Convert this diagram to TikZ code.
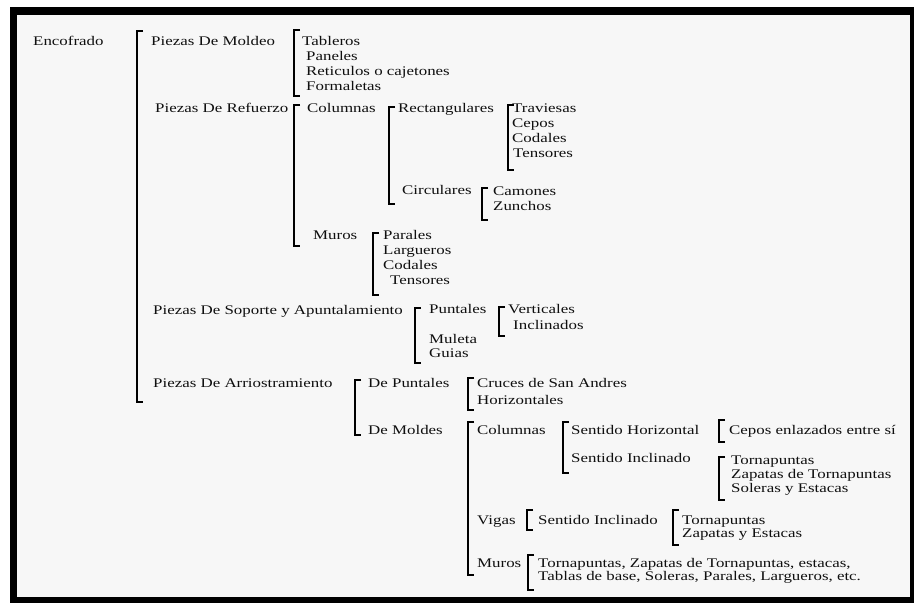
\documentclass[tikz,border=0pt]{standalone}
\usepackage{fontspec}
\setmainfont{Liberation Serif}[FakeStretch=1.28]
\usepackage{tikz}
\usetikzlibrary{calc}
\definecolor{myink}{RGB}{15,15,15}
\definecolor{mypaper}{RGB}{247,247,247}
\tikzset{
  item/.style={anchor=west, inner xsep=0pt, inner ysep=1pt,
    text height=0.7em, text depth=0.2em, text=myink,
    font=\fontsize{13.2}{15}\selectfont},
  bracketline/.style={draw=black, line width=1.5pt}
}
% bracket at x=#1 from node #2 down to node #3, #4/#5 = overshoot above/below
\newcommand{\corchete}[5]{%
  \draw[bracketline] ($(#1,0|-#2.west)+(6,-#4)$) -- ++(-6,0)
    -- ($(#1,0|-#3.west)+(0,#5)$) -- ++(6,0);}

\begin{document}
\begin{tikzpicture}[x=1pt,y=-1pt]
  \useasboundingbox (0,0) rectangle (916,603);
  % frame
  \fill[black] (10,7) rectangle (914,603);
  \fill[mypaper] (17,15) rectangle (910,597);

  \node[item] (enc) at (33,43) {Encofrado};

  % Piezas De Moldeo
  \node[item] (pmol) at (151,43) {Piezas De Moldeo};
  \node[item] (tab)  at (302,43) {Tableros};
  \node[item] (pan)  at (306,58) {Paneles};
  \node[item] (ret)  at (306,73) {Reticulos o cajetones};
  \node[item] (form) at (306,88) {Formaletas};

  % Piezas De Refuerzo
  \node[item] (pref) at (155,110) {Piezas De Refuerzo};
  \node[item] (col)  at (307,110) {Columnas};
  \node[item] (rect) at (398,110) {Rectangulares};
  \node[item] (trav) at (512,110) {Traviesas};
  \node[item] (cep)  at (512,125) {Cepos};
  \node[item] (cod)  at (512,140) {Codales};
  \node[item] (ten)  at (513,155) {Tensores};
  \node[item] (circ) at (402,192) {Circulares};
  \node[item] (cam)  at (493,193) {Camones};
  \node[item] (zun)  at (493,208) {Zunchos};
  \node[item] (mur)  at (313,237) {Muros};
  \node[item] (par)  at (383,237) {Parales};
  \node[item] (larg) at (383,252) {Largueros};
  \node[item] (codm) at (383,267) {Codales};
  \node[item] (tenm) at (390,282) {Tensores};

  % Piezas De Soporte y Apuntalamiento
  \node[item] (psop) at (153,312) {Piezas De Soporte y Apuntalamiento};
  \node[item] (punt) at (429,311) {Puntales};
  \node[item] (vert) at (508,311) {Verticales};
  \node[item] (incl) at (513,327) {Inclinados};
  \node[item] (mul)  at (429,341) {Muleta};
  \node[item] (gui)  at (429,355) {Guias};

  % Piezas De Arriostramiento
  \node[item] (parr)  at (153,385) {Piezas De Arriostramiento};
  \node[item] (dpun)  at (368,385) {De Puntales};
  \node[item] (cruc)  at (477,385) {Cruces de San Andres};
  \node[item] (hor)   at (477,402) {Horizontales};
  \node[item] (dmol)  at (368,432) {De Moldes};
  \node[item] (colm)  at (477,432) {Columnas};
  \node[item] (shor)  at (571,432) {Sentido Horizontal};
  \node[item] (cepe)  at (729,432) {Cepos enlazados entre sí};
  \node[item] (sinc)  at (571,460) {Sentido Inclinado};
  \node[item] (torn)  at (731,462) {Tornapuntas};
  \node[item] (zap)   at (731,476) {Zapatas de Tornapuntas};
  \node[item] (sol)   at (731,490) {Soleras y Estacas};
  \node[item] (vig)   at (477,522) {Vigas};
  \node[item] (sincv) at (538,522) {Sentido Inclinado};
  \node[item] (tornv) at (682,522) {Tornapuntas};
  \node[item] (zapv)  at (682,535) {Zapatas y Estacas};
  \node[item] (murm)  at (477,565) {Muros};
  \node[item] (mta)   at (538,565) {Tornapuntas, Zapatas de Tornapuntas, estacas,};
  \node[item] (mtb)   at (538,578) {Tablas de base, Soleras, Parales, Largueros, etc.};

  % brackets
  \corchete{137}{pmol}{parr}{12}{17}
  \corchete{294}{tab}{form}{13}{8}
  \corchete{294}{col}{mur}{5}{9}
  \corchete{389}{rect}{circ}{3}{12}
  \corchete{508}{trav}{ten}{5}{15}
  \corchete{482}{cam}{zun}{5}{12}
  \corchete{373}{par}{tenm}{4}{13}
  \corchete{415}{punt}{gui}{3}{8}
  \corchete{499}{vert}{incl}{4}{9}
  \corchete{355}{dpun}{dmol}{5}{3}
  \corchete{468}{cruc}{hor}{7}{8}
  \corchete{468}{colm}{murm}{10}{10}
  \corchete{563}{shor}{sinc}{10}{13}
  \corchete{719}{cepe}{cepe}{12}{10}
  \corchete{719}{torn}{sol}{5}{10}
  \corchete{527}{sincv}{sincv}{12}{8}
  \corchete{673}{tornv}{zapv}{12}{10}
  \corchete{528}{mta}{mtb}{10}{12}
\end{tikzpicture}
\end{document}
